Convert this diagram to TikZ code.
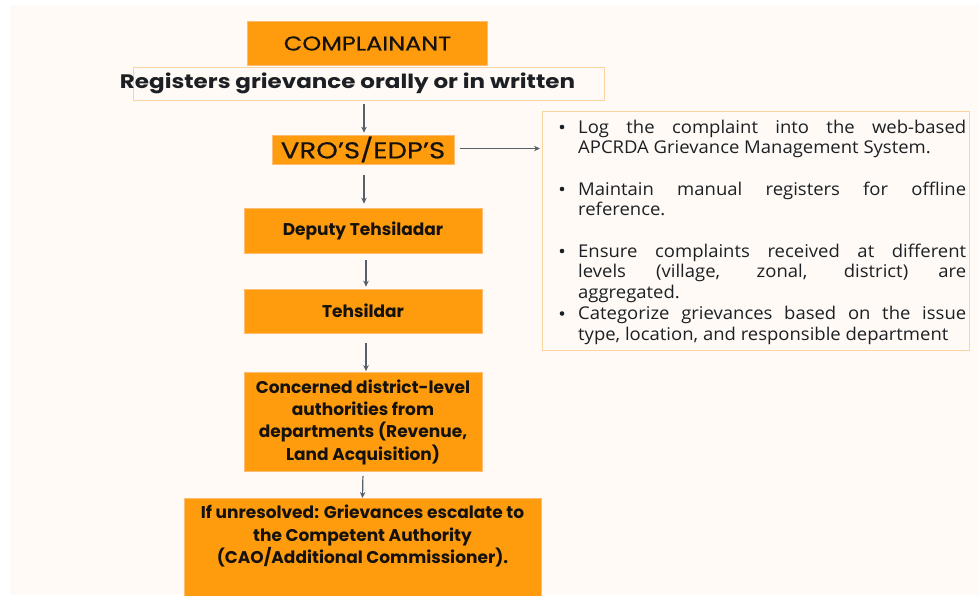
\documentclass[tikz,border=0pt]{standalone}
\usepackage{fontspec}
\setmainfont{Poppins}
\newfontfamily\headfont{Poppins}[FakeStretch=1.2, FakeBold=0.5]
\newfontfamily\wideboldfont{Poppins}[FakeStretch=1.18]
\newfontfamily\listfont{Open Sans}[FakeStretch=1.05]
\usetikzlibrary{arrows.meta}
\definecolor{panel}{HTML}{FFFAF5}
\definecolor{boxorange}{HTML}{FE9C0E}
\definecolor{boxedge}{HTML}{FDBE74}
\definecolor{paleedge}{HTML}{FDD3A0}
\definecolor{arrowgrey}{HTML}{56606B}
\definecolor{inkdark}{HTML}{1C1F23}
\definecolor{inkblack}{HTML}{15120E}
\tikzset{
  obox/.style={fill=boxorange, draw=boxedge, line width=0.6pt, inner sep=0pt,
               text=inkblack, align=center},
  boldtext/.style={font=\bfseries\fontsize{17}{22.3}\selectfont},
  flowarrow/.style={draw=arrowgrey, line width=1.2pt,
               -{Stealth[length=6pt,width=5.5pt]}},
  bulletitem/.style={anchor=base west, text width=388pt, align=justify,
               inner sep=0pt, font=\listfont\fontsize{17.6}{20.5}\selectfont,
               text=inkdark},
  bulletdot/.style={circle, fill=inkdark, inner sep=0pt, minimum size=4.6pt},
}
\begin{document}
\begin{tikzpicture}[x=1pt, y=-1pt]
  % page and cream panel
  \useasboundingbox (0,0) rectangle (979,595);
  \fill[white] (0,0) rectangle (979,595);
  \fill[panel] (10,5) rectangle (979,595);

  % main flow
  \node[obox, minimum width=240pt, minimum height=44pt,
        font=\headfont\fontsize{20}{22}\selectfont] (comp) at (367.5,43.5) {COMPLAINANT};
  \node[fill=panel, draw=paleedge, line width=0.8pt, minimum width=471pt,
        minimum height=33pt] (reg) at (368.5,83.5) {};
  \node[text=inkdark, font=\wideboldfont\bfseries\fontsize{19.5}{22}\selectfont, inner sep=0pt]
        (regtext) at (347.5,83.5) {Registers grievance orally or in written};
  \node[obox, minimum width=182pt, minimum height=29pt,
        font=\headfont\fontsize{23}{26}\selectfont] (vro) at (363,149.5) {VRO’S/EDP’S};
  \node[obox, boldtext, minimum width=238pt, minimum height=45pt] (dep) at (363,230.5) {Deputy Tehsiladar};
  \node[obox, boldtext, minimum width=238pt, minimum height=44pt] (teh) at (363,311) {Tehsildar};
  \node[obox, boldtext, minimum width=238pt, minimum height=99pt] (dist) at (363,422)
        {Concerned district-level\\authorities from\\departments (Revenue,\\Land Acquisition)};
  \node[obox, minimum width=357pt, minimum height=100pt, anchor=north] (esc) at (362.5,498) {};
  \node[text=inkblack, align=center, inner sep=0pt, anchor=north, boldtext] (esctext) at (362.5,505)
        {If unresolved: Grievances escalate to\\the Competent Authority\\(CAO/Additional Commissioner).};

  % side panel with the tasks
  \node[fill=panel, draw=paleedge, line width=1pt, minimum width=427pt,
        minimum height=239pt] (tasks) at (756,231) {};
  \foreach \yy/\name in {127/b1,189/b2,251/b3,313.5/b4}
    \node[bulletdot] (\name) at (562,\yy) {};
  \node[bulletitem] (t1) at (578,133)
    {Log the complaint into the web-based\linebreak APCRDA Grievance Management System.};
  \node[bulletitem] (t2) at (578,195)
    {Maintain manual registers for offline\linebreak reference.};
  \node[bulletitem] (t3) at (578,257)
    {Ensure complaints received at different\linebreak levels (village, zonal, district) are\linebreak aggregated.};
  \node[bulletitem] (t4) at (578,319.5)
    {Categorize grievances based on the issue\linebreak type, location, and responsible department};

  % connectors
  \coordinate (vroright) at ([yshift=1pt]vro.east);
  \draw[flowarrow, shorten <=4pt, shorten >=2pt] ([xshift=1pt]vro.north |- reg.south) -- ([xshift=1pt]vro.north);
  \draw[flowarrow, shorten <=11pt, shorten >=4pt] ([xshift=1pt]vro.south) -- ([xshift=1pt]dep.north);
  \draw[flowarrow, shorten <=7pt, shorten >=2pt] ([xshift=3pt]dep.south) -- ([xshift=3pt]teh.north);
  \draw[flowarrow, shorten <=10pt, shorten >=1pt] ([xshift=3pt]teh.south) -- ([xshift=3pt]dist.north);
  \draw[flowarrow, shorten <=4pt, shorten >=0pt] (dist.south) -- (esc.north);
  \draw[flowarrow, shorten <=6pt, shorten >=2pt] (vroright) -- (tasks.west |- vroright);
\end{tikzpicture}
\end{document}
